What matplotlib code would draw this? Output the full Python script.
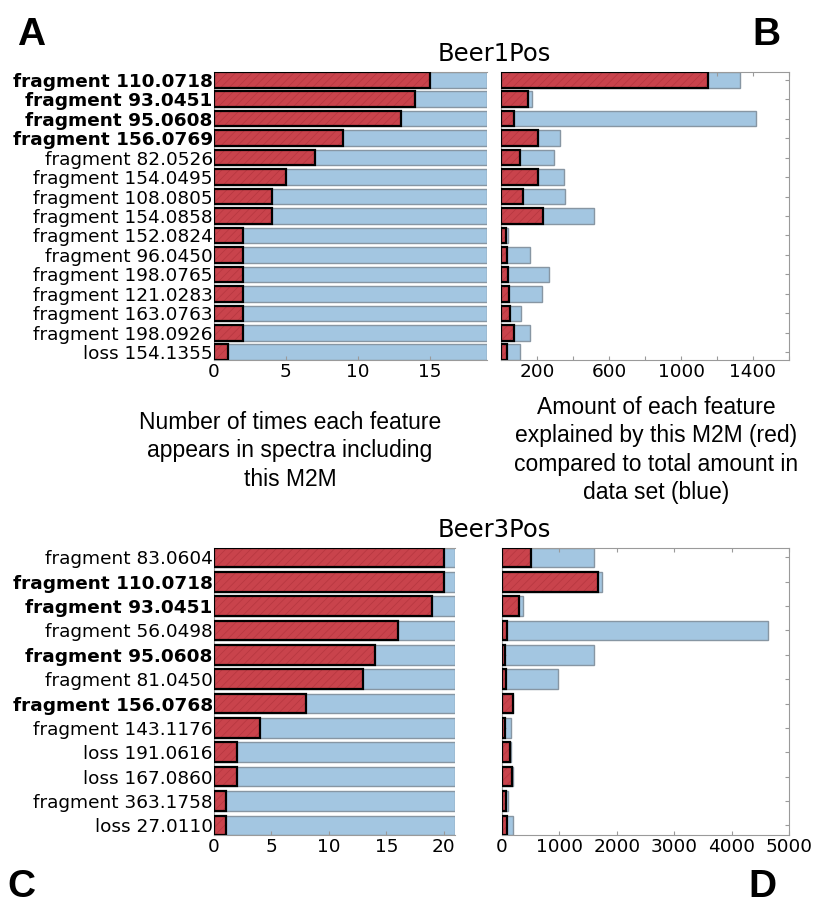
import matplotlib.pyplot as plt
import numpy as np

plt.rcParams['font.family'] = 'DejaVu Sans'
plt.rcParams['hatch.linewidth'] = 0.5

# --- data -------------------------------------------------------------
beer1_labels = ['fragment 110.0718', 'fragment 93.0451', 'fragment 95.0608',
                'fragment 156.0769', 'fragment 82.0526', 'fragment 154.0495',
                'fragment 108.0805', 'fragment 154.0858', 'fragment 152.0824',
                'fragment 96.0450', 'fragment 198.0765', 'fragment 121.0283',
                'fragment 163.0763', 'fragment 198.0926', 'loss 154.1355']
beer1_bold = [True, True, True, True] + [False] * 11
beer1_count = [15, 14, 13, 9, 7, 5, 4, 4, 2, 2, 2, 2, 2, 2, 1]
beer1_count_total = [19] * 15
beer1_amount = [1152, 149, 70, 207, 105, 207, 122, 233, 25, 34, 39, 45, 52, 72, 34]
beer1_amount_total = [1329, 174, 1418, 328, 297, 352, 355, 516, 41, 163, 264, 227, 112, 160, 103]

beer3_labels = ['fragment 83.0604', 'fragment 110.0718', 'fragment 93.0451',
                'fragment 56.0498', 'fragment 95.0608', 'fragment 81.0450',
                'fragment 156.0768', 'fragment 143.1176', 'loss 191.0616',
                'loss 167.0860', 'fragment 363.1758', 'loss 27.0110']
beer3_bold = [False, True, True, False, True, False, True, False, False, False, False, False]
beer3_count = [20, 20, 19, 16, 14, 13, 8, 4, 2, 2, 1, 1]
beer3_count_total = [21] * 12
beer3_amount = [510, 1680, 295, 97, 52, 75, 197, 63, 145, 185, 75, 93]
beer3_amount_total = [1605, 1739, 370, 4626, 1600, 984, 200, 167, 155, 190, 116, 203]

RED = '#c9434c'
RED_HATCH = '#b5363f'
BLUE = '#a3c6e1'
BLUE_EDGE = '#8796a3'
SPINE = '#9a9a9a'

fig = plt.figure(figsize=(8.16, 9.08), dpi=100)


def draw_bars(ax, red, blue):
    n = len(red)
    y = np.arange(n)
    h = 0.8
    ax.barh(y, blue, height=h, color=BLUE, edgecolor=BLUE_EDGE, linewidth=1.0, zorder=1)
    ax.barh(y, red, height=h, color=RED, edgecolor=RED_HATCH, hatch='////',
            linewidth=0, zorder=2)
    ax.barh(y, red, height=h, fill=False, edgecolor='black', linewidth=1.6, zorder=3)
    ax.set_ylim(n - 1 + h / 2, -h / 2)
    for s in ax.spines.values():
        s.set_color(SPINE)
    ax.tick_params(axis='both', direction='in', colors=SPINE, labelcolor='black',
                   labelsize=13.3, length=3, pad=2)


def left_panel(ax, labels, bold, red, blue, xmax, xticks):
    draw_bars(ax, red, blue)
    ax.set_xlim(0, xmax)
    ax.set_xticks(xticks)
    ax.set_yticks(np.arange(len(labels)))
    ax.set_yticklabels(labels)
    for lab, b in zip(ax.get_yticklabels(), bold):
        if b:
            lab.set_fontweight('bold')
    ax.spines['right'].set_visible(False)
    ax.tick_params(axis='y', length=0, pad=1)


def right_panel(ax, red, blue, xmax, xticks, xlabels):
    draw_bars(ax, red, blue)
    ax.set_xlim(0, xmax)
    ax.set_xticks(xticks)
    ax.set_xticklabels(xlabels)
    ax.set_yticks(np.arange(len(red)))
    ax.set_yticklabels([])
    ax.tick_params(axis='both', top=True, right=True, left=True)


axA = fig.add_axes([0.2623, 0.6035, 0.3346, 0.3172])
axB = fig.add_axes([0.6140, 0.6035, 0.3529, 0.3172])
axC = fig.add_axes([0.2623, 0.0804, 0.2957, 0.3164])
axD = fig.add_axes([0.6148, 0.0804, 0.3525, 0.3164])

left_panel(axA, beer1_labels, beer1_bold, beer1_count, beer1_count_total, 19, [0, 5, 10, 15])
b_ticks = list(range(0, 1601, 200))
right_panel(axB, beer1_amount, beer1_amount_total, 1600, b_ticks,
            [str(t) if t in (200, 600, 1000, 1400) else '' for t in b_ticks])

left_panel(axC, beer3_labels, beer3_bold, beer3_count, beer3_count_total, 21, [0, 5, 10, 15, 20])
d_ticks = list(range(0, 5001, 1000))
right_panel(axD, beer3_amount, beer3_amount_total, 5000, d_ticks, [str(t) for t in d_ticks])

# titles
fig.text(494.5 / 816, 1 - 61 / 908, 'Beer1Pos', ha='center', va='baseline', fontsize=17.5)
fig.text(494.5 / 816, 1 - 537 / 908, 'Beer3Pos', ha='center', va='baseline', fontsize=17.5)

# explanation texts
fig.text(290 / 816, 1 - 451 / 908,
         'Number of times each feature\nappears in spectra including\nthis M2M',
         ha='center', va='center', multialignment='center',
         fontsize=16.5, family='Liberation Sans', linespacing=1.3)
fig.text(656 / 816, 1 - 450 / 908,
         'Amount of each feature\nexplained by this M2M (red)\ncompared to total amount in\ndata set (blue)',
         ha='center', va='center', multialignment='center',
         fontsize=16.5, family='Liberation Sans', linespacing=1.3)

# panel letters
for letter, x, y in [('A', 17, 45), ('B', 752, 45), ('C', 7, 897), ('D', 748, 897)]:
    fig.text(x / 816, 1 - y / 908, letter, ha='left', va='baseline',
             fontsize=28, fontweight='bold', family='Liberation Sans')

fig.savefig('out.png', dpi=100, facecolor='white')
